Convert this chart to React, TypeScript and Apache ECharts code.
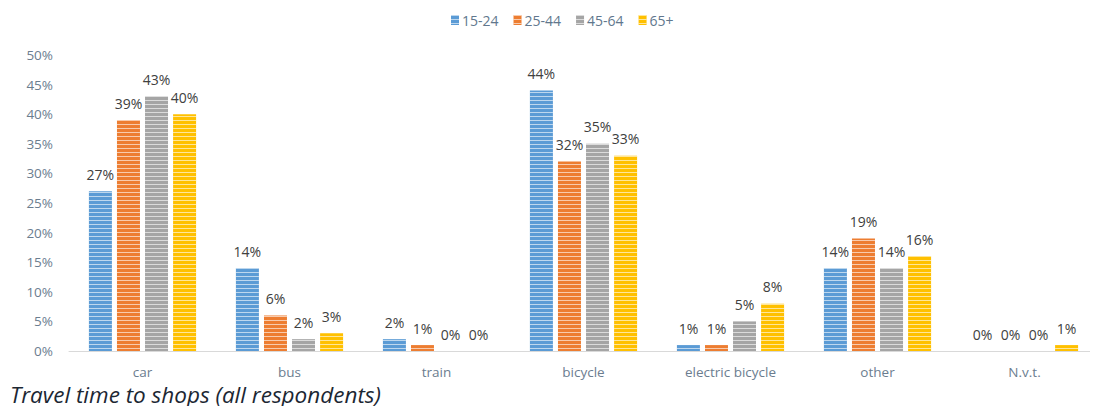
import React, { useEffect, useRef } from "react";
import * as echarts from "echarts";

const categories = ["car", "bus", "train", "bicycle", "electric bicycle", "other", "N.v.t."];
const ageGroups = ["15-24", "25-44", "45-64", "65+"];
const age15to24 = [27, 14, 2, 44, 1, 14, 0];
const age25to44 = [39, 6, 1, 32, 1, 19, 0];
const age45to64 = [43, 2, 0, 35, 5, 14, 0];
const age65plus = [40, 3, 0, 33, 8, 16, 1];
const yTicks = [0, 5, 10, 15, 20, 25, 30, 35, 40, 45, 50];
const colors = ["#5B9BD5", "#ED7D31", "#A5A5A5", "#FFC000"];
const title = "Travel time to shops (all respondents)";

const FONT = "'Open Sans', Lato, sans-serif";

export default function App() {
  const ref = useRef<HTMLDivElement>(null);

  useEffect(() => {
    if (!ref.current) return;
    const chart = echarts.init(ref.current, undefined, { renderer: "svg" });
    const seriesData = [age15to24, age25to44, age45to64, age65plus];

    chart.setOption({
      animation: false,
      backgroundColor: "#ffffff",
      textStyle: { fontFamily: FONT },
      legend: {
        data: ageGroups,
        left: 446,
        top: 8,
        itemWidth: 8,
        itemHeight: 10,
        itemGap: 15,
        icon: "rect",
        textStyle: { color: "#61778d", fontSize: 14, fontFamily: FONT, padding: [0, 0, 0, -2] },
      },
      graphic: [
        {
          type: "text",
          left: 10,
          top: 383,
          style: {
            text: title,
            font: `italic 22.5px ${FONT}`,
            fill: "#1c2733",
            lineHeight: 23,
          },
        },
      ],
      grid: { left: 69, top: 55, width: 1034, height: 296, containLabel: false },
      xAxis: {
        type: "category",
        data: categories,
        axisLine: { lineStyle: { color: "#d9d9d9", width: 1 } },
        axisTick: { show: false },
        axisLabel: { color: "#6b7d8f", fontSize: 13.5, margin: 13, lineHeight: 15, fontFamily: FONT },
      },
      yAxis: {
        type: "value",
        min: 0,
        max: 50,
        interval: 5,
        splitLine: { show: false },
        axisLine: { show: false },
        axisTick: { show: false },
        axisLabel: {
          color: "#6b7d8f",
          fontSize: 13.5,
          margin: 16,
          fontFamily: FONT,
          formatter: (v: number) => (yTicks.includes(v) ? `${v}%` : ""),
        },
      },
      series: ageGroups.map((name, i) => ({
        name,
        type: "bar",
        data: seriesData[i],
        barWidth: 23,
        barGap: "22%",
        itemStyle: {
          color: colors[i],
          decal: {
            symbol: "rect",
            symbolSize: 1,
            color: "rgba(255,255,255,0.6)",
            dashArrayX: [1, 0],
            dashArrayY: [1, 3],
            rotation: 0,
          },
        },
        label: {
          show: true,
          position: "top",
          distance: 10,
          color: "#404040",
          fontSize: 14,
          fontFamily: FONT,
          formatter: (p: any) => `${p.value}%`,
        },
      })),
    });

    return () => chart.dispose();
  }, []);

  return <div ref={ref} style={{ width: 1098, height: 414, margin: -8 }} />;
}
